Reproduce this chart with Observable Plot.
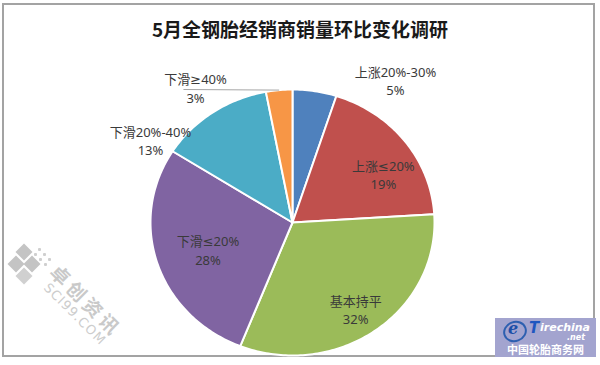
<!DOCTYPE html>
<html><head><meta charset="utf-8">
<script src="https://cdn.jsdelivr.net/npm/d3@7"></script>
<script src="https://cdn.jsdelivr.net/npm/@observablehq/plot@0.6"></script>
<style>
body{margin:0;background:#fff;font-family:"Noto Sans CJK SC","Noto Sans",sans-serif}
#wrap{position:relative;width:600px;height:365px;overflow:hidden;background:#fff}
#frame{position:absolute;left:2px;top:3px;width:589px;height:350px;border:2px solid #a3a3a3}
#title{position:absolute;left:0;width:600px;top:18px;line-height:21px;text-align:center;font-size:19px;font-weight:bold;color:#1a1a1a}
#chart{position:absolute;left:0;top:0}
.wm{position:absolute;transform:translate(-50%,-50%) rotate(45deg);white-space:nowrap;line-height:1}
.sq{position:absolute;background:#c4c4c4;transform:rotate(45deg)}
.dot{position:absolute;width:3px;height:3px;background:#cfcfcf;border-radius:1px}
#tc{position:absolute;left:495px;top:318px;width:101px;height:39px;background:#a3a4cf}
</style></head>
<body>
<div id="wrap">
  <div id="frame"></div>
  <div class="sq" style="left:18px;top:246px;width:12px;height:12px"></div>
  <div class="sq" style="left:10px;top:258px;width:12px;height:12px"></div>
  <div class="sq" style="left:26px;top:258px;width:12px;height:12px"></div>
  <div class="sq" style="left:18px;top:270px;width:12px;height:12px;background:#d0d0d0"></div>
  <div class="dot" style="left:38px;top:248px"></div>
  <div class="dot" style="left:43px;top:253px"></div>
  <div class="dot" style="left:48px;top:258px"></div>
  <div class="dot" style="left:34px;top:253px"></div>
  <div class="dot" style="left:39px;top:258px"></div>
  <div class="dot" style="left:44px;top:263px"></div>
  <div class="wm" style="left:87px;top:300px;font-size:19px;font-weight:bold;color:#c9c9c9;letter-spacing:4px">卓创资讯</div>
  <div class="wm" style="left:75px;top:314px;font-size:13px;color:#cdcdcd;letter-spacing:1px;font-family:'DejaVu Sans'">SCI99.COM</div>
  <div id="title">5月全钢胎经销商销量环比变化调研</div>
  <div id="chart"></div>
  <div id="tc">
    <div style="position:absolute;left:8px;top:3px;width:20px;height:17px;border:2px solid #2d5fb0;border-radius:50%;transform:rotate(-20deg)"></div>
    <div style="position:absolute;left:13px;top:3px;line-height:16px;font:italic bold 16px/16px 'DejaVu Serif';color:#1b4ea8">e</div>
    <div style="position:absolute;left:34px;top:3px;font:italic bold 15px/15px 'DejaVu Sans';color:#1f56c0">T</div>
    <div style="position:absolute;left:45px;top:4px;font:italic bold 11px/11px 'DejaVu Sans';color:#ffffff">irechina</div>
    <div style="position:absolute;left:72px;top:16px;font:italic bold 8px/8px 'DejaVu Sans';color:#ffffff">.net</div>
    <div style="position:absolute;left:0;width:101px;top:26px;text-align:center;font:bold 11px/11px 'Noto Sans CJK SC';color:#ffffff">中国轮胎商务网</div>
  </div>
</div>
<script>
const categories = ["上涨20%-30%", "上涨≤20%", "基本持平", "下滑≤20%", "下滑20%-40%", "下滑≥40%"];
const shares = [5, 19, 32, 28, 13, 3];
const colors = ["#4F81BD", "#C0504D", "#9BBB59", "#8064A2", "#4BACC6", "#F79646"];
// label anchor positions in unit-circle coordinates (layout only)
const labelAt = {
  "上涨20%-30%": [0.725, 1.07],
  "上涨≤20%": [0.64, 0.365],
  "基本持平": [0.445, -0.65],
  "下滑≤20%": [-0.595, -0.205],
  "下滑20%-40%": [-1.0, 0.62],
  "下滑≥40%": [-0.683, 1.015]
};
const leaderStart = [-0.768, 1.0];

const total = d3.sum(shares);
let acc = 0;
const pts = [];
const mids = [];
categories.forEach((c, i) => {
  const a0 = acc / total * 2 * Math.PI;
  acc += shares[i];
  const a1 = acc / total * 2 * Math.PI;
  pts.push({c, x: 0, y: 0});
  const n = Math.max(2, Math.ceil((a1 - a0) / (Math.PI / 180)));
  for (let k = 0; k <= n; k++) {
    const a = a0 + (a1 - a0) * k / n;
    pts.push({c, x: Math.sin(a), y: Math.cos(a)});
  }
  pts.push({c, x: 0, y: 0});
  mids.push((a0 + a1) / 2);
});
const lastMid = mids[mids.length - 1];

const chart = Plot.plot({
  width: 600,
  height: 365,
  marginLeft: 150,
  marginRight: 166,
  marginTop: 89,
  marginBottom: 10,
  x: {domain: [-1, 1], axis: null},
  y: {domain: [-1, 1], axis: null},
  color: {domain: categories, range: colors},
  style: {fontFamily: "'Noto Sans', 'DejaVu Sans', 'Noto Sans CJK SC', sans-serif", background: "transparent"},
  marks: [
    Plot.line(pts, {x: "x", y: "y", z: "c", fill: "c", stroke: "white", strokeWidth: 2, strokeLinejoin: "round", curve: "linear"}),
    Plot.link([0], {x1: () => leaderStart[0], y1: () => leaderStart[1], x2: () => Math.sin(lastMid), y2: () => Math.cos(lastMid), stroke: "#a6a6a6", strokeWidth: 1}),
    Plot.text(categories, {
      x: d => labelAt[d][0],
      y: d => labelAt[d][1],
      text: (d, i) => d + "\n" + shares[i] + "%",
      fontSize: 13,
      lineHeight: 1.42,
      fill: "#3a3a3a"
    })
  ]
});
document.getElementById("chart").appendChild(chart);
</script>
</body></html>
